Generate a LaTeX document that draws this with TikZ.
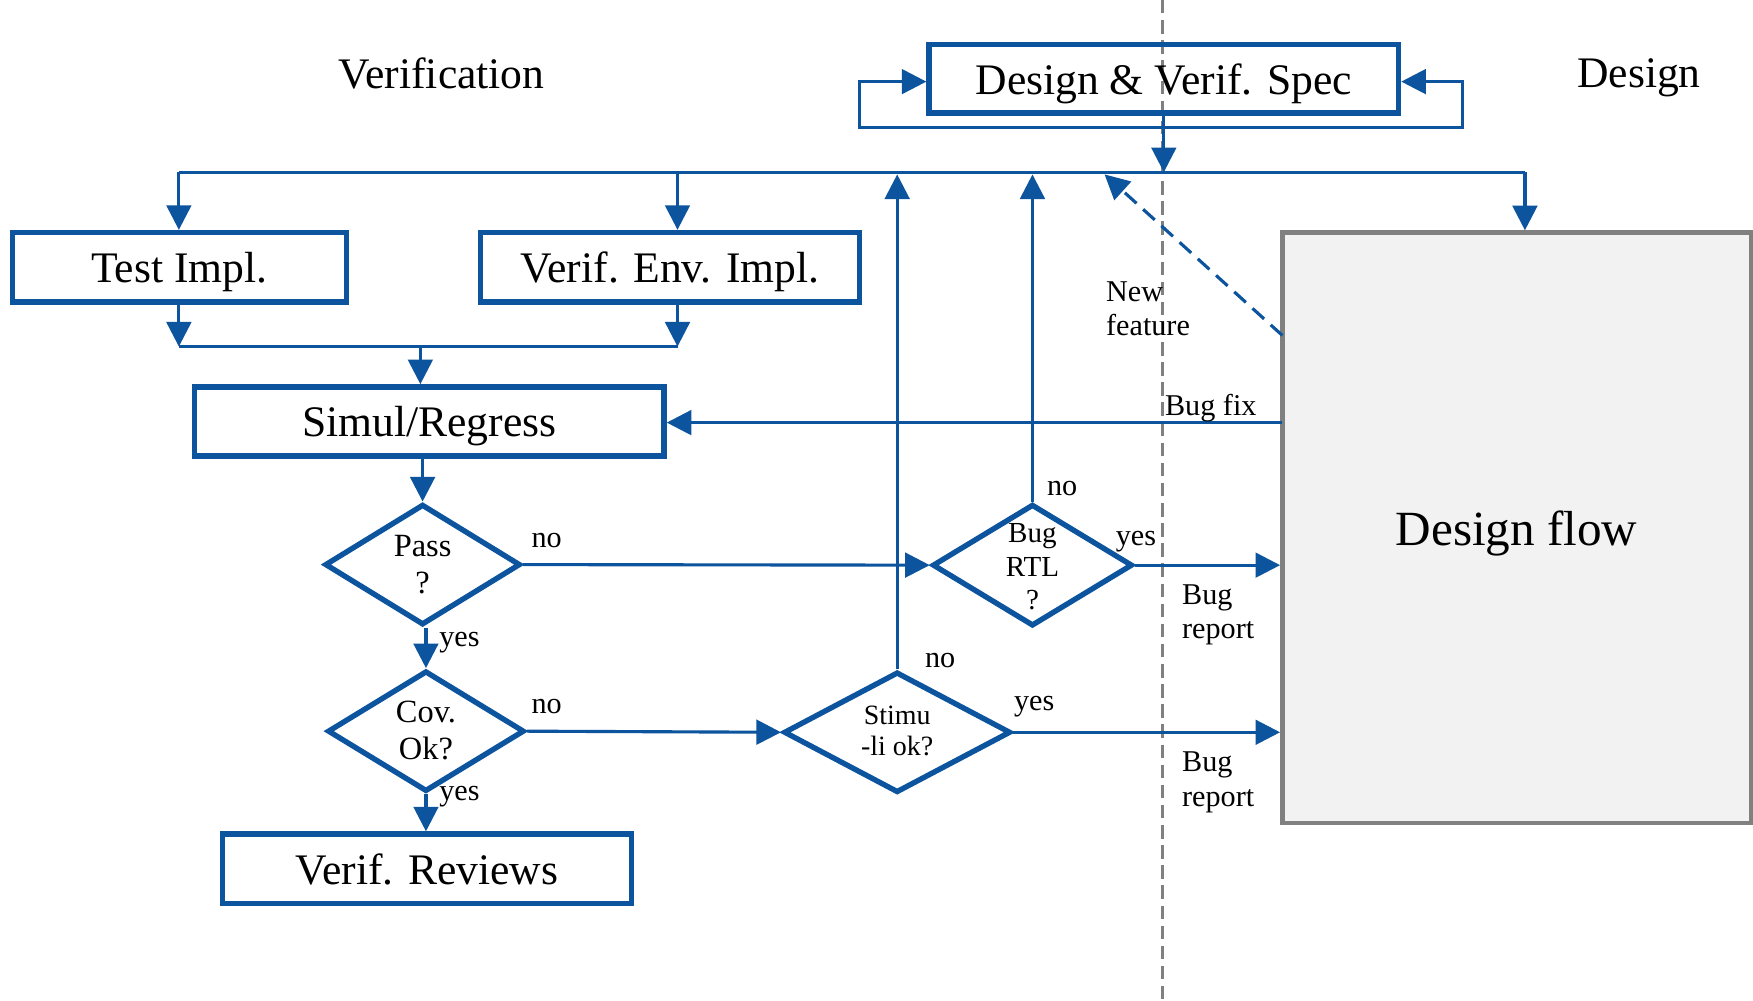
\documentclass[tikz,border=0pt]{standalone}
\usepackage{fontspec}
\setmainfont{Liberation Serif}
\usetikzlibrary{shapes.geometric,arrows.meta}
\definecolor{myblue}{RGB}{12,84,158}
\definecolor{flowgray}{RGB}{128,128,128}
\definecolor{flowfill}{RGB}{242,242,242}
\tikzset{
  boxn/.style={draw=myblue, line width=2.4pt, rectangle, inner sep=0pt, text depth=0pt, font=\fontsize{19.5}{22}\selectfont},
  dia/.style={draw=myblue, line width=2.4pt, diamond, inner sep=0pt},
  arr/.style={draw=myblue, line width=1.4pt, -{Triangle[length=11pt,width=11pt]}},
  ln/.style={draw=myblue, line width=1.4pt},
  lbl/.style={font=\fontsize{13.5}{15.5}\selectfont, inner sep=0pt, text depth=0pt},
  dtext/.style={font=\fontsize{14.5}{16.5}\selectfont, inner sep=0pt, align=center},
  ttl/.style={font=\fontsize{19.5}{22}\selectfont, inner sep=0pt, text depth=0pt},
}
\begin{document}
\begin{tikzpicture}[x=0.5pt,y=-0.5pt]
\path[fill=white,use as bounding box] (0,0) rectangle (1568,895);
% divider
\draw[flowgray, line width=1.2pt, dash pattern=on 6pt off 3pt] (1040,0) -- (1040,895);
% titles
\node[ttl] (tver) at (395,65) {Verification};
\node[ttl] (tdes) at (1466,65) {Design};
% boxes
\node[boxn, minimum width=210pt, minimum height=30.5pt] (spec) at (1041,70.5) {Design \& Verif. Spec};
\node[boxn, minimum width=149.5pt, minimum height=31pt] (test) at (160.5,239) {Test Impl.};
\node[boxn, minimum width=169.5pt, minimum height=31pt] (veri) at (599.5,239) {Verif. Env. Impl.};
\node[boxn, minimum width=210pt, minimum height=31pt] (simul) at (384,377) {Simul/Regress};
\node[boxn, minimum width=183pt, minimum height=31pt] (rev) at (382,777) {Verif. Reviews};
\node[draw=flowgray, fill=flowfill, line width=2pt, inner sep=0pt, text depth=0pt, minimum width=209.5pt, minimum height=264pt, font=\fontsize{22}{26}\selectfont] (flow) at (1356.5,472) {Design flow};
% diamonds
\node[dia, minimum width=87.5pt, minimum height=54pt] (pass) at (378,505) {};
\node[dtext] (passT) at (378,505) {Pass\\?};
\node[dia, minimum width=88pt, minimum height=54pt] (cov) at (381,654) {};
\node[dtext] (covT) at (381,653) {Cov.\\Ok?};
\node[dia, minimum width=101.5pt, minimum height=54pt] (stimu) at (802.5,655) {};
\node[dtext, font=\fontsize{12.5}{14}\selectfont] (stimuT) at (802.5,654) {Stimu\\-li ok?};
\node[dia, minimum width=89.5pt, minimum height=54.5pt] (bug) at (923.5,505.5) {};
\node[dtext, font=\fontsize{13}{15}\selectfont] (bugT) at (923.5,507) {Bug\\RTL\\?};
% coordinates
\coordinate (busL) at (160,154);
\coordinate (busR) at (1364,154);
\coordinate (dropV) at (606,154);
\coordinate (joinL) at (160,310);
\coordinate (joinR) at (606,310);
\coordinate (joinM) at (376,310);
\coordinate (fixS) at (1147,378);
\coordinate (nfS) at (1147,300);
\coordinate (nfE) at (988,156);
\coordinate (lpLW) at (769,73);
\coordinate (lpLB) at (769,114);
\coordinate (lpRB) at (1308,114);
\coordinate (lpRW) at (1308,73);
% spec loop
\draw[ln, {Triangle[length=11pt,width=11pt]}-{Triangle[length=11pt,width=11pt]}] (spec.west |- lpLW) -- (lpLW) -- (lpLB) -- (lpRB) -- (lpRW) -- (spec.east |- lpRW);
% bus
\draw[arr] (spec.south) -- (spec.south |- busL);
\draw[ln] (busL) -- (busR);
\draw[arr] (busL) -- (busL |- test.north);
\draw[arr] (dropV) -- (dropV |- veri.north);
\draw[arr] (busR) -- (busR |- flow.north);
% join
\draw[arr] (joinL |- test.south) -- (joinL);
\draw[arr] (joinR |- veri.south) -- (joinR);
\draw[ln] (joinL) -- (joinR);
\draw[arr] (joinM) -- (joinM |- simul.north);
% flow chain
\draw[arr] (pass.north |- simul.south) -- (pass.north);
\draw[arr] (cov.north |- pass.south) -- (cov.north);
\draw[arr] (cov.south) -- (cov.south |- rev.north);
\draw[arr] (pass.east) -- (bug.west);
\draw[arr] (cov.east) -- (stimu.west);
\draw[arr] (stimu.north) -- (stimu.north |- nfE);
\draw[arr] (bug.north) -- (bug.north |- nfE);
\draw[arr] (bug.east) -- (bug.east -| flow.west);
\draw[arr] (stimu.east) -- (stimu.east -| flow.west);
\draw[arr] (fixS) -- (fixS -| simul.east);
\draw[arr, dash pattern=on 7pt off 4pt] (nfS) -- (nfE);
% labels
\node[lbl] (l1) at (489,483) {no};
\node[lbl] (l2) at (411,572) {yes};
\node[lbl] (l3) at (489,632) {no};
\node[lbl] (l4) at (411,710) {yes};
\node[lbl] (l5) at (841,591) {no};
\node[lbl] (l6) at (925,629) {yes};
\node[lbl] (l7) at (950,437) {no};
\node[lbl] (l8) at (1016,482) {yes};
\node[lbl] (l9) at (1083,362) {Bug fix};
\node[lbl, align=left, anchor=west] (l10) at (989,276) {New\\feature};
\node[lbl, align=left, anchor=west] (l11) at (1057,547) {Bug\\report};
\node[lbl, align=left, anchor=west] (l12) at (1057,697) {Bug\\report};
\end{tikzpicture}
\end{document}
